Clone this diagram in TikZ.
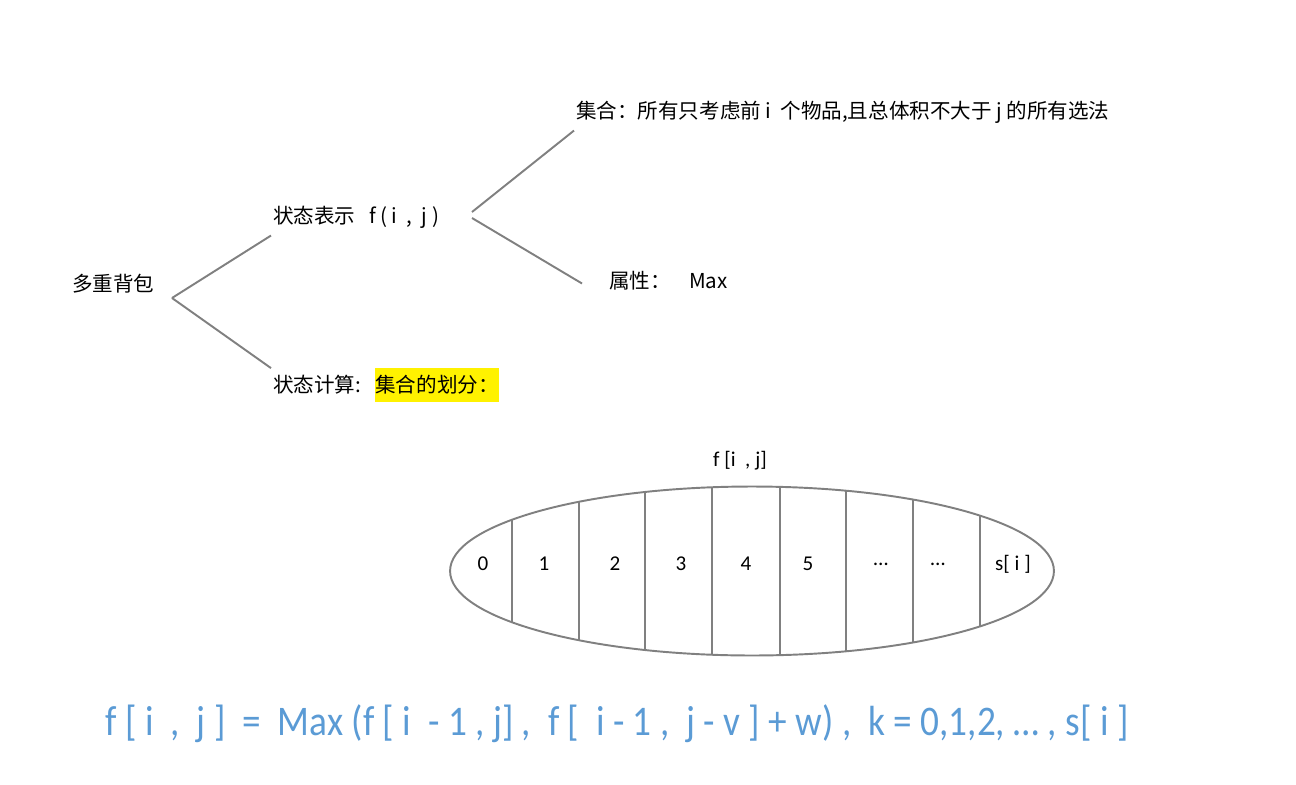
\documentclass[tikz,border=0pt]{standalone}
\usepackage{fontspec}
\usepackage{xcolor}
\usepackage{tikz}
\usetikzlibrary{positioning}
\newfontfamily\cjkfont{Noto Sans CJK SC}
\newfontfamily\calfont{Carlito}
\definecolor{formulablue}{HTML}{5B9BD5}
\definecolor{linegray}{HTML}{808080}

\begin{document}
\begin{tikzpicture}[x=0.02cm,y=-0.02cm,
	word/.style={anchor=west,inner xsep=1pt,inner ysep=4pt,font=\cjkfont\fontsize{11.7}{14}\selectfont},
	branch/.style={draw=linegray,line width=1.1pt},
	cell/.style={inner sep=0pt,font=\calfont\fontsize{12}{14}\selectfont}]
	\useasboundingbox (0,0) rectangle (1296,785);
	%	tree of the problem
	\node (root) at(70,284)[word]{多重背包};
	\node (repr) at(271,217)[word]{状态表示~~ f (~i ~, ~j~)};
	\node (calc) at(271,385)[word]{状态计算:};
	\node (split) at(375,385)[word,inner xsep=0pt,minimum height=0.66cm,fill=yellow]{集合的划分：};
	\node (set) at(574,112)[word]{集合：所有只考虑前 i ~个物品,且总体积不大于 j 的所有选法};
	\node (attr) at(607,281)[word]{属性：~~~ Max};
	\coordinate (fork) at(172,298);
	\coordinate (forkup) at(472,212);
	\coordinate (forkdown) at(472,218);
	\draw[branch] (fork) -- (repr.south west);
	\draw[branch] (fork) -- (calc.north west);
	\draw[branch] (forkup) -- (set.south west);
	\draw[branch] (forkdown) -- ([xshift=-0.5cm,yshift=-0.05cm]attr.west);
	%	partition of f[i,j]
	\node (top) at(740,461)[cell]{f [i ~, j]};
	\draw[branch] (752,571) ellipse [x radius=6.04cm,y radius=1.69cm];
	\begin{scope}
		\clip (752,571) ellipse [x radius=6.04cm,y radius=1.69cm];
		\foreach \px in {512,579,645,712,780,846,913,980}
			\draw[branch] (\px,470) -- (\px,670);
	\end{scope}
	\node (k0) at(483,564)[cell]{0};
	\node (k1) at(544,564)[cell]{1};
	\node (k2) at(615,564)[cell]{2};
	\node (k3) at(681,564)[cell]{3};
	\node (k4) at(746,564)[cell]{4};
	\node (k5) at(808,564)[cell]{5};
	\node (kdots) at(881,564)[cell]{…};
	\node (kmore) at(938,564)[cell]{…};
	\node (ks) at(1013,564)[cell]{s[ i ]};
	%	transition
	\node (formula) at(617,724)[inner sep=0pt,xscale=0.884,transform shape,text=formulablue,font=\calfont\fontsize{24}{28}\selectfont]{f [ i ~, ~j ] ~= ~Max (f [ i ~- 1 , j] , ~f [ ~i - 1 , ~j - v ] + w) , ~k = 0,1,2, … , s[ i ]};
\end{tikzpicture}
\end{document}
